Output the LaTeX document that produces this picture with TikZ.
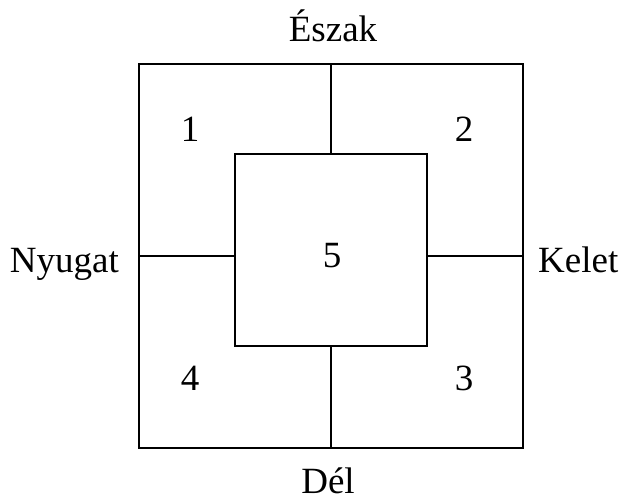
\documentclass[tikz,border=0pt]{standalone}
\usepackage{fontspec}
\setmainfont{Liberation Serif}
\usetikzlibrary{positioning}
\tikzset{box/.style = {draw, shape = rectangle, inner sep = 0, line width = 1.2pt}}
\tikzset{lbl/.style = {inner sep = 0, anchor = base, font = \fontsize{37}{44}\selectfont}}

\begin{document}
\begin{tikzpicture}[x = 1pt, y = -1pt]
    \useasboundingbox (0, 0) rectangle (619, 500);

    \node [box, minimum size = 384] (outer) at (331, 256) {};
    \node [box, minimum size = 192] (inner) at (331, 250) {};

    \draw [line width = 1.2pt] (outer.north) -- (inner.north);
    \draw [line width = 1.2pt] (outer.south) -- (inner.south);
    \draw [line width = 1.2pt] (outer.west) -- (outer.west -| inner.west);
    \draw [line width = 1.2pt] (outer.east) -- (outer.east -| inner.east);

    \node [lbl] (north) at (333, 42) {Észak};
    \node [lbl] (south) at (328, 493) {Dél};
    \node [lbl, anchor = base east] (west) at (119, 272) {Nyugat};
    \node [lbl, anchor = base west] (east) at (538, 272) {Kelet};

    \node [lbl] (one) at (190, 142) {1};
    \node [lbl] (two) at (464, 142) {2};
    \node [lbl] (three) at (464, 390) {3};
    \node [lbl] (four) at (190, 390) {4};
    \node [lbl] (five) at (332, 267) {5};
\end{tikzpicture}
\end{document}
